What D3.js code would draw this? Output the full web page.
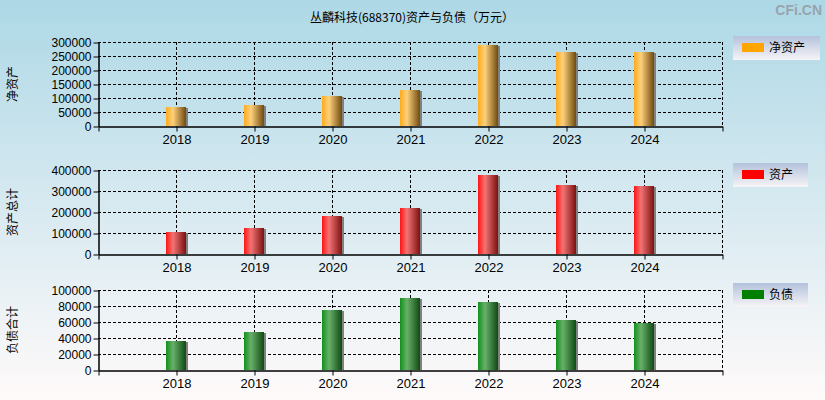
<!DOCTYPE html>
<html>
<head>
<meta charset="utf-8">
<script src="https://cdn.jsdelivr.net/npm/d3@7"></script>
<style>
  html, body { margin: 0; padding: 0; }
  svg { display: block; }
</style>
</head>
<body>
<svg id="chart" width="825" height="400"></svg>
<script>
// values (万元)
const years = ['2018', '2019', '2020', '2021', '2022', '2023', '2024'];
const netAssets = [69000, 75000, 107000, 128500, 289000, 264500, 264000];
const totalAssets = [106000, 125000, 182000, 220500, 377500, 330000, 325500];
const liabilities = [36500, 47500, 75300, 90300, 85300, 62700, 59000];

const netTicks = [0, 50000, 100000, 150000, 200000, 250000, 300000];
const assetTicks = [0, 100000, 200000, 300000, 400000];
const debtTicks = [0, 20000, 40000, 60000, 80000, 100000];

const titleText = '丛麟科技(688370)资产与负债（万元）';

const svg = d3.select('#chart');
const width = +svg.attr('width');
const height = +svg.attr('height');
const cjk = '"Noto Sans CJK SC", "Microsoft YaHei", sans-serif';
const latin = '"Liberation Sans", Arial, sans-serif';

const defs = svg.append('defs');

// page background
const bg = defs.append('linearGradient').attr('id', 'bg')
    .attr('x1', 0).attr('y1', 0).attr('x2', 0).attr('y2', 1);
bg.append('stop').attr('offset', '0%').attr('stop-color', '#add8e6');
bg.append('stop').attr('offset', '100%').attr('stop-color', '#fffafa');
svg.append('rect').attr('width', width).attr('height', height).attr('fill', 'url(#bg)');

// legend box background
const lg = defs.append('linearGradient').attr('id', 'legendBg')
    .attr('x1', 0).attr('y1', 0).attr('x2', 0).attr('y2', 1);
lg.append('stop').attr('offset', '0%').attr('stop-color', '#b4c2dc');
lg.append('stop').attr('offset', '100%').attr('stop-color', '#f6f4f6');

const makeBarGradient = (id, left, mid, right) => {
  const g = defs.append('linearGradient').attr('id', id)
      .attr('x1', 0).attr('y1', 0).attr('x2', 1).attr('y2', 0);
  g.append('stop').attr('offset', '0%').attr('stop-color', left);
  g.append('stop').attr('offset', '35%').attr('stop-color', mid);
  g.append('stop').attr('offset', '100%').attr('stop-color', right);
};
makeBarGradient('gOrange', '#ffab1c', '#fdd07c', '#6e4a0e');
makeBarGradient('gRed', '#ff1414', '#f27474', '#7c1010');
makeBarGradient('gGreen', '#11901c', '#68b06a', '#0f4a12');

// title + watermark
svg.append('text')
    .attr('x', 412).attr('y', 22)
    .attr('text-anchor', 'middle')
    .style('font-family', cjk).style('font-size', '12px')
    .attr('fill', '#000')
    .text(titleText);

svg.append('text')
    .attr('x', 822).attr('y', 15)
    .attr('text-anchor', 'end')
    .style('font-family', latin).style('font-size', '14px').style('font-weight', 'bold')
    .attr('fill', '#98a4ae')
    .text('CFi.CN');

const x = d3.scaleLinear().domain([2017, 2025]).range([98, 722]);
const barW = 20;

const panels = [
  { label: '净资产', legend: '净资产', values: netAssets, ticks: netTicks, top: 42, bottom: 126,
    fill: 'url(#gOrange)', swatch: '#ffa500', legendY: 36, legendW: 87 },
  { label: '资产总计', legend: '资产', values: totalAssets, ticks: assetTicks, top: 170, bottom: 254,
    fill: 'url(#gRed)', swatch: '#ff0000', legendY: 163, legendW: 75 },
  { label: '负债合计', legend: '负债', values: liabilities, ticks: debtTicks, top: 290, bottom: 370,
    fill: 'url(#gGreen)', swatch: '#008000', legendY: 283, legendW: 75 }
];

panels.forEach((p) => {
  const g = svg.append('g');
  const y = d3.scaleLinear()
      .domain([0, d3.max(p.ticks)])
      .range([p.bottom, p.top]);

  // dashed horizontal grid
  g.selectAll('.hgrid')
    .data(p.ticks.slice(1))
    .enter().append('line')
      .attr('x1', x(2017)).attr('x2', x(2025))
      .attr('y1', (d) => Math.round(y(d)) + 0.5)
      .attr('y2', (d) => Math.round(y(d)) + 0.5)
      .attr('stroke', '#000').attr('stroke-dasharray', '3,2');

  // dashed vertical grid incl. right border
  const vx = years.map((d) => +d).concat([2025]);
  g.selectAll('.vgrid')
    .data(vx)
    .enter().append('line')
      .attr('x1', (d) => Math.round(x(d)) + 0.5)
      .attr('x2', (d) => Math.round(x(d)) + 0.5)
      .attr('y1', p.top).attr('y2', p.bottom)
      .attr('stroke', '#000').attr('stroke-dasharray', '3,2');

  // bar shadows
  g.selectAll('.shadow')
    .data(p.values)
    .enter().append('rect')
      .attr('x', (d, i) => Math.round(x(+years[i])) + barW / 2)
      .attr('width', 2)
      .attr('y', (d) => Math.round(y(d)) + 1)
      .attr('height', (d) => p.bottom - Math.round(y(d)) - 1)
      .attr('fill', '#808080');

  // bars
  g.selectAll('.bar')
    .data(p.values)
    .enter().append('rect')
      .attr('x', (d, i) => Math.round(x(+years[i])) - barW / 2)
      .attr('width', barW)
      .attr('y', (d) => Math.round(y(d)))
      .attr('height', (d) => p.bottom - Math.round(y(d)))
      .attr('fill', p.fill);

  // y axis
  const yAxis = g.append('g')
      .attr('transform', 'translate(' + (x(2017) + 0.5) + ',0.5)')
      .call(d3.axisLeft(y).tickValues(p.ticks).tickFormat(d3.format('d'))
        .tickSize(5).tickPadding(2).tickSizeOuter(0));
  yAxis.select('.domain').attr('stroke', '#000').attr('stroke-width', 1.5);
  yAxis.selectAll('text')
      .style('font-family', latin).style('font-size', '12px').attr('fill', '#000');

  // x axis
  const xAxis = g.append('g')
      .attr('transform', 'translate(0.5,' + (p.bottom + 0.5) + ')')
      .call(d3.axisBottom(x)
        .tickValues(d3.range(2017, 2026))
        .tickFormat((d) => (years.indexOf(String(d)) >= 0 ? String(d) : ''))
        .tickSize(5).tickPadding(3).tickSizeOuter(0));
  xAxis.select('.domain').attr('stroke', '#000').attr('stroke-width', 1.5);
  xAxis.selectAll('text')
      .style('font-family', latin).style('font-size', '13px').attr('fill', '#000');

  // y title
  svg.append('text')
      .attr('transform', 'translate(17,' + ((p.top + p.bottom) / 2) + ') rotate(-90)')
      .attr('text-anchor', 'middle')
      .style('font-family', cjk).style('font-size', '12px')
      .attr('fill', '#000')
      .text(p.label);

  // legend
  const lgG = svg.append('g').attr('transform', 'translate(733,' + p.legendY + ')');
  lgG.append('rect').attr('width', p.legendW).attr('height', 24).attr('fill', 'url(#legendBg)');
  lgG.append('rect').attr('x', 9).attr('y', 7).attr('width', 22).attr('height', 9).attr('fill', p.swatch);
  lgG.append('text')
      .attr('x', 36).attr('y', 16)
      .style('font-family', cjk).style('font-size', '12px')
      .attr('fill', '#000')
      .text(p.legend);
});
</script>
</body>
</html>
